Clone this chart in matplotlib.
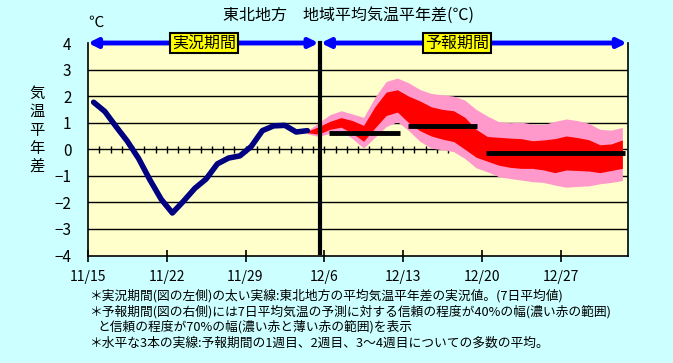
import numpy as np
import matplotlib
matplotlib.use("Agg")
import matplotlib.pyplot as plt

plt.rcParams['font.family'] = ['Noto Sans CJK JP', 'DejaVu Sans']
plt.rcParams['axes.unicode_minus'] = True

# day index: 0 = 11/15
tick_days = [0, 7, 14, 21, 28, 35, 42]
tick_labels = ["11/15", "11/22", "11/29", "12/6", "12/13", "12/20", "12/27"]

# observed 7-day mean anomaly (actual period)
obs_days = np.arange(0.5, 20.0, 1.0)
obs_vals = [1.77, 1.42, 0.85, 0.30, -0.35, -1.15, -1.88, -2.40, -1.95, -1.47,
            -1.12, -0.55, -0.33, -0.25, 0.10, 0.70, 0.88, 0.90, 0.65, 0.70]

# forecast ranges (70% = pink outer, 40% = red inner)
band_days = np.arange(19.5, 48.0, 1.0)
pink_hi = [0.70, 1.00, 1.30, 1.45, 1.33, 1.20, 1.95, 2.55, 2.68, 2.50,
           2.25, 2.10, 2.05, 2.00, 1.85, 1.50, 1.25, 1.04, 1.00, 1.02,
           0.95, 0.93, 1.05, 1.14, 1.08, 0.98, 0.75, 0.72, 0.82]
red_hi = [0.68, 0.85, 1.05, 1.19, 1.08, 0.90, 1.60, 2.15, 2.24, 2.00,
          1.82, 1.60, 1.50, 1.45, 1.20, 0.75, 0.48, 0.45, 0.42, 0.40,
          0.32, 0.35, 0.40, 0.50, 0.44, 0.36, 0.17, 0.20, 0.35]
red_lo = [0.62, 0.57, 0.75, 0.83, 0.60, 0.30, 0.80, 1.27, 1.40, 1.00,
          0.70, 0.50, 0.38, 0.29, 0.00, -0.30, -0.45, -0.60, -0.68, -0.72,
          -0.72, -0.78, -0.88, -0.78, -0.80, -0.82, -0.88, -0.80, -0.72]
pink_lo = [0.58, 0.48, 0.60, 0.70, 0.40, 0.04, 0.45, 0.85, 1.04, 0.70,
           0.30, 0.04, -0.02, -0.09, -0.35, -0.70, -0.85, -1.03, -1.10, -1.16,
           -1.22, -1.25, -1.35, -1.43, -1.40, -1.38, -1.30, -1.25, -1.18]

# weekly means: week1, week2, weeks 3-4
week_start = [21.4, 28.4, 35.4]
week_end = [27.7, 34.6, 47.7]
week_mean = [0.60, 0.89, -0.15]

split_day = 20.6
last_day = 48

fig = plt.figure(figsize=(6.73, 3.63), dpi=100, facecolor="#CCFFFF")
ax = fig.add_axes([88/673, 1-255.5/363, 540/673, 212.5/363])
ax.set_facecolor("#FFFFCC")
ax.set_xlim(0, last_day)
ax.set_ylim(-4, 4)

for v in [-3, -2, -1, 1, 2, 3]:
    ax.axhline(v, color="black", lw=1, zorder=1)
ax.axhline(0, color="black", lw=1, zorder=1)
ax.vlines(np.arange(1, last_day), -0.13, 0.13, color="black", lw=1, zorder=1)

ax.fill_between(band_days, pink_lo, pink_hi, color="#FF99CC", lw=0, zorder=2)
ax.fill_between(band_days, red_lo, red_hi, color="#FF0000", lw=0, zorder=2)
ax.hlines(week_mean, week_start, week_end, color="black", lw=3.5, zorder=3)

ax.plot(obs_days, obs_vals, color="#000080", lw=4, solid_capstyle="round",
        solid_joinstyle="round", zorder=3)

ax.plot([split_day, split_day], [4, -3.92], color="black", lw=3, zorder=4, clip_on=False)

arrow = dict(arrowstyle="<|-|>", color="#0000FF", lw=3.5, mutation_scale=13,
             shrinkA=0, shrinkB=0)
ax.annotate("", xy=(0, 4), xytext=(split_day - 0.1, 4), arrowprops=arrow,
            annotation_clip=False, zorder=5)
ax.annotate("", xy=(split_day + 0.1, 4), xytext=(last_day - 0.1, 4), arrowprops=arrow,
            annotation_clip=False, zorder=5)

box = dict(boxstyle="square,pad=0.12", fc="#FFFF00", ec="black", lw=1.5)
ax.text(10.3, 4, "実況期間", ha="center", va="center", fontsize=11.5, bbox=box, zorder=6)
ax.text(32.8, 4, "予報期間", ha="center", va="center", fontsize=11.5, bbox=box, zorder=6)

for s in ["left", "right", "bottom", "top"]:
    ax.spines[s].set_linewidth(1.2)
ax.spines["top"].set_visible(False)

ax.set_xticks(tick_days)
ax.set_xticklabels(tick_labels, fontsize=10)
ax.tick_params(axis="x", direction="inout", length=9, width=1.2, pad=6)
ax.set_yticks(range(-4, 5))
ax.set_yticklabels([str(v).replace("-", "\u2212") for v in range(-4, 5)], fontsize=11)
ax.tick_params(axis="y", length=0, pad=12)

fig.text(348/673, 1-15/363, "東北地方　地域平均気温平年差(℃)", ha="center", va="center", fontsize=11.5)
fig.text(96/673, 1-22/363, "℃", ha="center", va="center", fontsize=11)
fig.text(37/673, 1-130/363, "気\n温\n平\n年\n差", ha="center", va="center",
         fontsize=11, linespacing=1.1)

notes = [
    (89, 296, "＊実況期間(図の左側)の太い実線:東北地方の平均気温平年差の実況値。(7日平均値)"),
    (89, 312, "＊予報期間(図の右側)には7日平均気温の予測に対する信頼の程度が40%の幅(濃い赤の範囲)"),
    (97, 327, "と信頼の程度が70%の幅(濃い赤と薄い赤の範囲)を表示"),
    (89, 343, "＊水平な3本の実線:予報期間の1週目、2週目、3〜4週目についての多数の平均。"),
]
for x, y, s in notes:
    fig.text(x/673, 1-y/363, s, ha="left", va="center", fontsize=9.2)

fig.savefig("out.png", dpi=100, facecolor=fig.get_facecolor())
